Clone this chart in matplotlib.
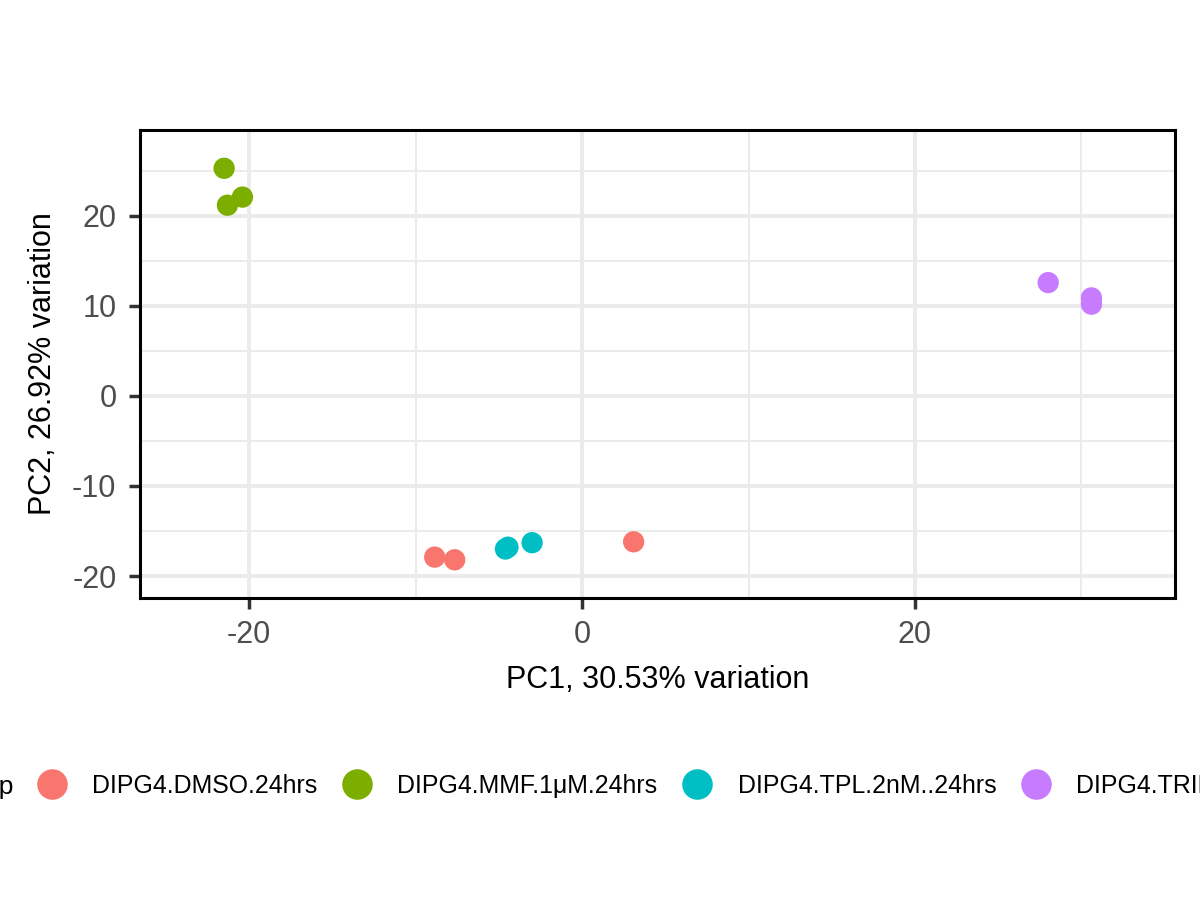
import matplotlib
matplotlib.use("Agg")
import matplotlib.pyplot as plt
from matplotlib.lines import Line2D
from matplotlib.ticker import MultipleLocator

plt.rcParams["font.family"] = ["Liberation Sans", "DejaVu Sans"]
plt.rcParams["axes.unicode_minus"] = False

# PCA scores
groups = ["DIPG4.DMSO.24hrs", "DIPG4.MMF.1μM.24hrs", "DIPG4.TPL.2nM..24hrs", "DIPG4.TRIPLE.24hrs"]
colors = ["#F8766D", "#7CAE00", "#00BFC4", "#C77CFF"]
pc1 = {
    "DIPG4.DMSO.24hrs": [-8.85, -7.65, 3.1],
    "DIPG4.MMF.1μM.24hrs": [-21.5, -21.3, -20.4],
    "DIPG4.TPL.2nM..24hrs": [-4.6, -4.45, -3.0],
    "DIPG4.TRIPLE.24hrs": [28.0, 30.6, 30.6],
}
pc2 = {
    "DIPG4.DMSO.24hrs": [-17.9, -18.2, -16.2],
    "DIPG4.MMF.1μM.24hrs": [25.3, 21.2, 22.1],
    "DIPG4.TPL.2nM..24hrs": [-17.0, -16.8, -16.3],
    "DIPG4.TRIPLE.24hrs": [12.6, 10.9, 10.2],
}
xlab = "PC1, 30.53% variation"
ylab = "PC2, 26.92% variation"

fig = plt.figure(figsize=(12, 9), dpi=100)
ax = fig.add_axes([0.1167, 0.3356, 0.8625, 0.52])

for g, c in zip(groups, colors):
    ax.scatter(pc1[g], pc2[g], s=235, color=c, edgecolors="none", zorder=3)

ax.set_xlim(-26.55, 35.62)
ax.set_ylim(-22.44, 29.56)
ax.xaxis.set_major_locator(MultipleLocator(20))
ax.xaxis.set_minor_locator(MultipleLocator(10))
ax.yaxis.set_major_locator(MultipleLocator(10))
ax.yaxis.set_minor_locator(MultipleLocator(5))

ax.grid(True, which="major", color="#EBEBEB", linewidth=2.8, zorder=0)
ax.grid(True, which="minor", color="#EBEBEB", linewidth=1.4, zorder=0)
ax.set_axisbelow(True)

for sp in ax.spines.values():
    sp.set_color("black")
    sp.set_linewidth(2.2)

ax.tick_params(which="major", length=8, width=2.5, color="#333333",
               labelsize=22, labelcolor="#4D4D4D")
ax.tick_params(axis="x", which="major", pad=8)
ax.tick_params(axis="y", which="major", pad=9)
ax.tick_params(which="minor", length=0)

ax.set_xlabel(xlab, fontsize=22, va="center")
ax.xaxis.set_label_coords(0.5, -0.175)
ax.set_ylabel(ylab, fontsize=22, va="center")
ax.yaxis.set_label_coords(-0.0935, 0.5)

# legend along the bottom, spilling over both edges like the original
handles = [Line2D([], [], linestyle="none", marker="o", markersize=22,
                  markerfacecolor=c, markeredgecolor="none") for c in colors]
fig.legend(handles, groups, loc="center left", bbox_to_anchor=(25 / 1200, 1 - 786 / 900),
           ncol=4, frameon=False, fontsize=17.9, borderpad=0, handlelength=1.15,
           handletextpad=1.05, columnspacing=1.02)
fig.text(14 / 1200, 1 - 794 / 900, "Group", ha="right", va="baseline", fontsize=19)

fig.savefig("out.png", dpi=100)
